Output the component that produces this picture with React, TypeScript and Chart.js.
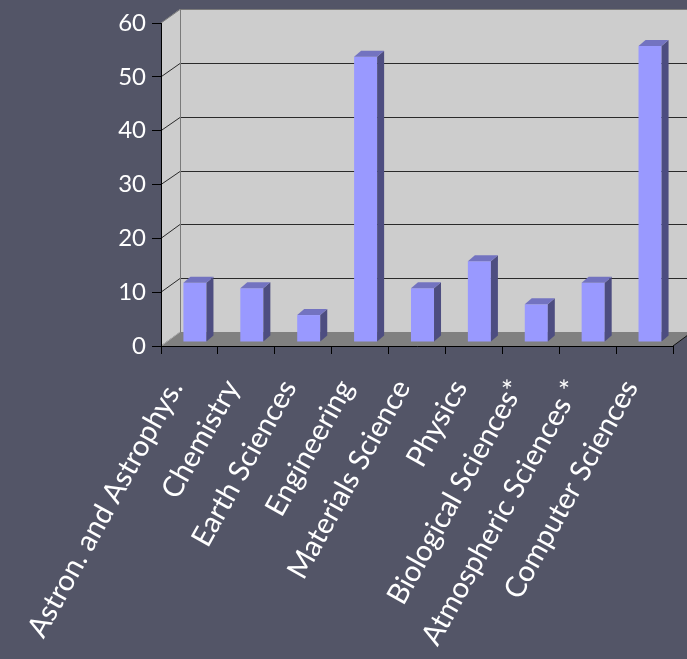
import React, { useEffect, useRef } from "react";
import { Chart, registerables } from "chart.js";

Chart.register(...registerables);

const categories = [
  "Astron. and Astrophys.",
  "Chemistry",
  "Earth Sciences",
  "Engineering",
  "Materials Science",
  "Physics",
  "Biological Sciences*",
  "Atmospheric Sciences *",
  "Computer Sciences",
];
const values = [11, 10, 5, 53, 10, 15, 7, 11, 55];
const yTicks = [0, 10, 20, 30, 40, 50, 60];

const BG = "#535567";
const WALL = "#cdcdcd";
const FLOOR = "#808080";
const BAR_FRONT = "#9999ff";
const BAR_SIDE = "#4d4d80";
const BAR_TOP = "#7373c0";

const DEPTH_X = 19;
const DEPTH_Y = 14;
const BAR_SHIFT_X = 5.5;
const BAR_SHIFT_Y = 4;
const BAR_DX = 7;
const BAR_DY = 6;

const threeD = {
  id: "threeD",
  beforeDraw(chart: any) {
    const { ctx, chartArea, width, height } = chart;
    const { left, right, top, bottom } = chartArea;
    const yScale = chart.scales.y;
    ctx.save();
    ctx.fillStyle = BG;
    ctx.fillRect(0, 0, width, height);
    ctx.fillStyle = WALL;
    ctx.beginPath();
    ctx.moveTo(left, top);
    ctx.lineTo(left + DEPTH_X, top - DEPTH_Y);
    ctx.lineTo(width + 40, top - DEPTH_Y);
    ctx.lineTo(width + 40, bottom - DEPTH_Y);
    ctx.lineTo(left + DEPTH_X, bottom - DEPTH_Y);
    ctx.lineTo(left, bottom);
    ctx.closePath();
    ctx.fill();
    ctx.lineWidth = 1;
    for (const v of yTicks) {
      const yf = yScale.getPixelForValue(v);
      const yb = Math.round(yf - DEPTH_Y) + 0.5;
      ctx.strokeStyle = v === 0 || v === 60 ? "#7a7a7a" : "#2a2a2a";
      ctx.beginPath();
      ctx.moveTo(left, yf);
      ctx.lineTo(left + DEPTH_X, yb);
      ctx.lineTo(width + 40, yb);
      ctx.stroke();
    }
    ctx.strokeStyle = "#7a7a7a";
    ctx.beginPath();
    ctx.moveTo(left + DEPTH_X + 0.5, top - DEPTH_Y);
    ctx.lineTo(left + DEPTH_X + 0.5, bottom - DEPTH_Y);
    ctx.stroke();
    ctx.fillStyle = FLOOR;
    ctx.beginPath();
    ctx.moveTo(left, bottom);
    ctx.lineTo(left + DEPTH_X, bottom - DEPTH_Y);
    ctx.lineTo(right + DEPTH_X, bottom - DEPTH_Y);
    ctx.lineTo(right, bottom);
    ctx.closePath();
    ctx.fill();
    ctx.strokeStyle = "#b0b0b0";
    ctx.beginPath();
    ctx.moveTo(left, bottom);
    ctx.lineTo(left + DEPTH_X, bottom - DEPTH_Y);
    ctx.stroke();
    ctx.strokeStyle = "#111";
    ctx.beginPath();
    ctx.moveTo(right, bottom);
    ctx.lineTo(right + DEPTH_X, bottom - DEPTH_Y);
    ctx.stroke();
    ctx.restore();
  },
  beforeDatasetsDraw(chart: any) {
    chart.ctx.save();
    chart.ctx.translate(BAR_SHIFT_X, -BAR_SHIFT_Y);
  },
  afterDatasetsDraw(chart: any) {
    const ctx = chart.ctx;
    const meta = chart.getDatasetMeta(0);
    for (const bar of meta.data) {
      const { x, y, base, width } = bar.getProps(["x", "y", "base", "width"], true);
      const l = x - width / 2;
      const r = x + width / 2;
      ctx.fillStyle = BAR_SIDE;
      ctx.beginPath();
      ctx.moveTo(r, y);
      ctx.lineTo(r + BAR_DX, y - BAR_DY);
      ctx.lineTo(r + BAR_DX, base - BAR_DY);
      ctx.lineTo(r, base);
      ctx.closePath();
      ctx.fill();
      ctx.fillStyle = BAR_TOP;
      ctx.beginPath();
      ctx.moveTo(l, y);
      ctx.lineTo(l + BAR_DX, y - BAR_DY);
      ctx.lineTo(r + BAR_DX, y - BAR_DY);
      ctx.lineTo(r, y);
      ctx.closePath();
      ctx.fill();
    }
    ctx.restore();
  },
};

export default function App() {
  const ref = useRef<HTMLCanvasElement | null>(null);
  useEffect(() => {
    if (!ref.current) return;
    const chart = new Chart(ref.current, {
      type: "bar",
      data: {
        labels: categories,
        datasets: [
          {
            data: values,
            backgroundColor: BAR_FRONT,
            borderWidth: 0,
            categoryPercentage: 1,
            barPercentage: 0.405,
            clip: false as any,
          },
        ],
      },
      options: {
        animation: false,
        responsive: true,
        maintainAspectRatio: false,
        layout: { autoPadding: false, padding: { top: 23, right: 14, left: 0, bottom: 0 } } as any,
        plugins: { legend: { display: false }, tooltip: { enabled: false } },
        scales: {
          x: {
            grid: { drawOnChartArea: false, color: "#000", tickLength: 8, offset: true },
            border: { color: "#000", width: 1 },
            ticks: {
              color: "#ffffff",
              font: { family: "Lato", size: 29 },
              minRotation: 61,
              maxRotation: 61,
              autoSkip: false,
              labelOffset: -14,
              padding: 20,
            },
            afterFit(scale: any) {
              scale.height = 313;
              scale.paddingLeft = 0;
              scale.paddingRight = 0;
            },
          },
          y: {
            min: 0,
            max: 60,
            grid: { drawOnChartArea: false, color: "#000", tickLength: 9 },
            border: { color: "#000", width: 1 },
            ticks: {
              stepSize: 10,
              color: "#ffffff",
              font: { family: "Lato", size: 24 },
              padding: 6,
            },
            afterFit(scale: any) {
              scale.width = 161;
              scale.paddingTop = 0;
              scale.paddingBottom = 0;
            },
          },
        },
      },
      plugins: [threeD],
    });
    return () => chart.destroy();
  }, []);
  return (
    <div style={{ position: "fixed", left: 0, top: 0, width: 687, height: 659, background: BG }}>
      <canvas ref={ref} />
    </div>
  );
}
